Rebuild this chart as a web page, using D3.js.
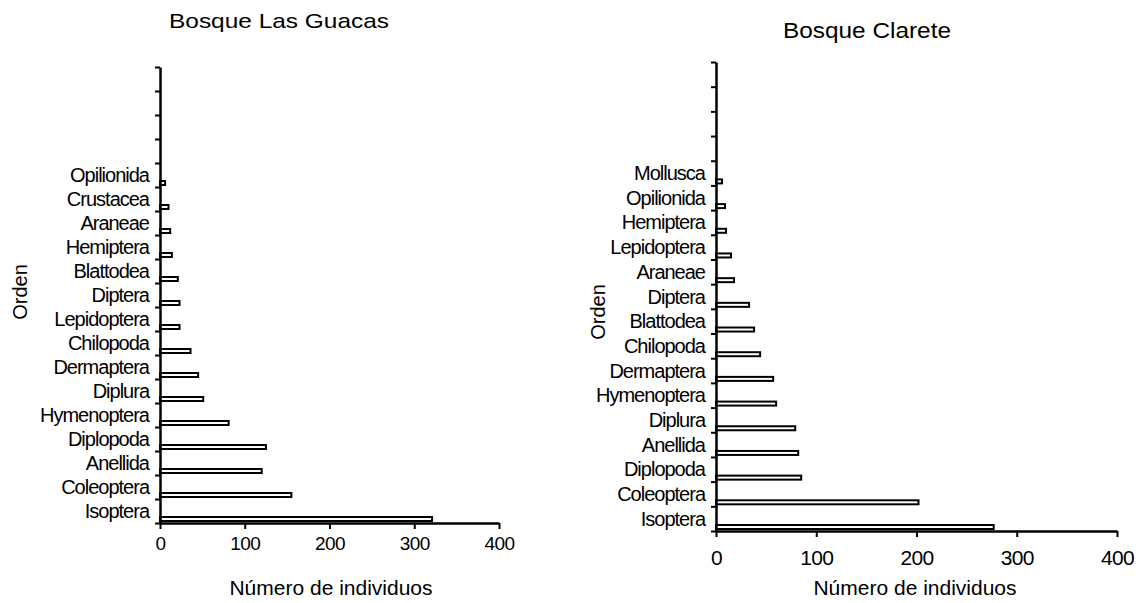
<!DOCTYPE html>
<html>
<head>
<meta charset="utf-8">
<script src="https://cdn.jsdelivr.net/npm/d3@7"></script>
<style>
  html, body { margin: 0; padding: 0; background: #fff; }
  svg text { font-family: "Liberation Sans", Arial, sans-serif; fill: #000; }
</style>
</head>
<body>
<svg id="chart" width="1147" height="603"></svg>
<script>
// Orders listed from the bottom of each axis upwards, with individual counts
const guacasOrders = ["Isoptera", "Coleoptera", "Anellida", "Diplopoda", "Hymenoptera", "Diplura",
  "Dermaptera", "Chilopoda", "Lepidoptera", "Diptera", "Blattodea", "Hemiptera", "Araneae",
  "Crustacea", "Opilionida"];
const guacasCounts = [321, 155, 120, 125, 81, 51, 45, 36, 23, 23, 21, 14, 12, 10, 6];

const clareteOrders = ["Isoptera", "Coleoptera", "Diplopoda", "Anellida", "Diplura", "Hymenoptera",
  "Dermaptera", "Chilopoda", "Blattodea", "Diptera", "Araneae", "Lepidoptera", "Hemiptera",
  "Opilionida", "Mollusca"];
const clareteCounts = [277, 202, 85, 82, 79, 60, 57, 44, 38, 33, 18, 15, 10, 9, 6];

const countTicks = [0, 100, 200, 300, 400];
const emptySlots = 4;   // unused category rows above the last order

const svg = d3.select("#chart");

function drawPanel(opt) {
  const g = svg.append("g");
  const slots = opt.orders.concat(d3.range(emptySlots).map(i => "__empty" + i));

  const y = d3.scaleBand().domain(slots).range([opt.bottom, opt.top]).padding(0);
  const slotEdge = d3.scaleLinear().domain([0, slots.length]).range([opt.bottom, opt.top]);
  const x = d3.scaleLinear().domain([0, 400]).range([opt.left, opt.right]);

  // bars: thin outlined rectangles sitting at the bottom of each row
  g.selectAll("rect.bar")
    .data(opt.counts)
    .join("rect")
    .attr("class", "bar")
    .attr("x", x(0))
    .attr("y", (d, i) => y(opt.orders[i]) + y.bandwidth() - opt.barOffset - opt.barH)
    .attr("width", d => x(d) - x(0))
    .attr("height", opt.barH)
    .attr("fill", "#fff")
    .attr("stroke", "#000")
    .attr("stroke-width", 2);

  // category axis: tick marks at every row boundary
  const yAxis = d3.axisLeft(slotEdge)
    .tickValues(d3.range(slots.length + 1))
    .tickFormat("")
    .tickSize(5)
    .tickSizeOuter(0);
  const ya = g.append("g").attr("transform", `translate(${opt.left},0)`).call(yAxis);
  ya.select(".domain").attr("stroke-width", 2.5);
  ya.selectAll(".tick line").attr("stroke-width", 2);

  // order names centred on each row
  g.selectAll("text.cat")
    .data(opt.orders)
    .join("text")
    .attr("class", "cat")
    .attr("x", opt.left - opt.labelGap)
    .attr("y", d => y(d) + y.bandwidth() / 2)
    .attr("dy", "0.35em")
    .attr("text-anchor", "end")
    .style("font-size", "20px")
    .style("letter-spacing", "-1px")
    .text(d => d);

  // count axis
  const xAxis = d3.axisBottom(x).tickValues(countTicks).tickSize(6).tickSizeOuter(0)
    .tickPadding(opt.tickPad);
  const xa = g.append("g").attr("transform", `translate(0,${opt.bottom})`).call(xAxis);
  xa.select(".domain").attr("stroke-width", 2.5);
  xa.selectAll(".tick line").attr("stroke-width", 2);
  xa.selectAll(".tick text")
    .style("font-size", opt.tickSize + "px")
    .style("letter-spacing", "-0.6px")
    .style("font-family", '"Liberation Sans", Arial, sans-serif')
    .attr("fill", "#000");

  g.append("text")
    .attr("x", opt.xTitleX)
    .attr("y", 595)
    .attr("text-anchor", "middle")
    .style("font-size", "21px")
    .text("Número de individuos");

  g.append("text")
    .attr("transform", `translate(${opt.yTitleX},${opt.yTitleY}) rotate(-90)`)
    .attr("text-anchor", "middle")
    .style("font-size", "20px")
    .text("Orden");

  g.append("text")
    .attr("x", opt.titleX)
    .attr("y", opt.titleY)
    .attr("text-anchor", "middle")
    .attr("textLength", opt.titleW)
    .attr("lengthAdjust", "spacingAndGlyphs")
    .style("font-size", opt.titleSize + "px")
    .text(opt.title);
}

drawPanel({
  title: "Bosque Las Guacas", titleX: 279, titleY: 28, titleW: 220, titleSize: 21,
  orders: guacasOrders, counts: guacasCounts,
  left: 160, right: 499, top: 67, bottom: 523,
  barH: 4, barOffset: 2, labelGap: 11,
  tickSize: 19, tickPad: 8,
  xTitleX: 331, yTitleX: 27, yTitleY: 292
});

drawPanel({
  title: "Bosque Clarete", titleX: 867, titleY: 38, titleW: 168, titleSize: 22,
  orders: clareteOrders, counts: clareteCounts,
  left: 716, right: 1117, top: 62, bottom: 531,
  barH: 4, barOffset: 2, labelGap: 11,
  tickSize: 21, tickPad: 13,
  xTitleX: 915, yTitleX: 605, yTitleY: 312
});
</script>
</body>
</html>
